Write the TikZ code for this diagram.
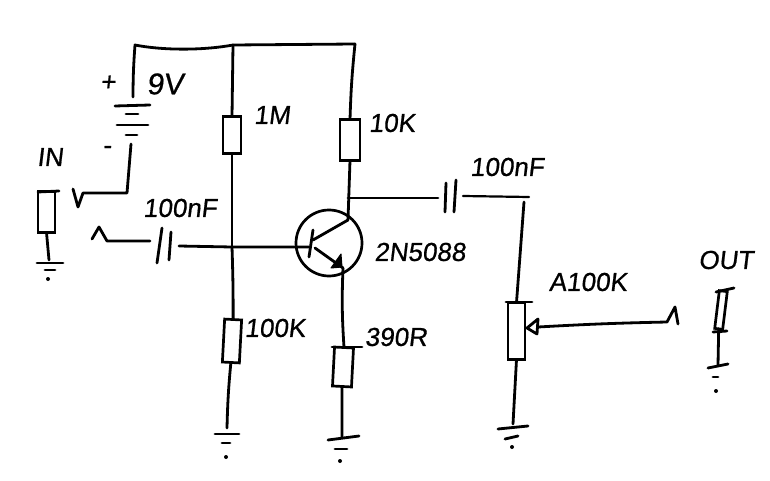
\documentclass[tikz,border=0pt]{standalone}
\usepackage{fontspec}
\setmainfont{Liberation Sans}
\newfontfamily\handfont[FakeBold=0.7,FakeSlant=0.12]{Liberation Sans}
\begin{document}
\begin{tikzpicture}[x=1pt,y=-1pt,
  wire/.style={line width=2.8pt,line cap=round,line join=round,black},
  thin wire/.style={line width=2.2pt,line cap=round,line join=round,black},
  res/.style={draw=black,line width=2.7pt,inner sep=0pt,outer sep=0pt,minimum width=#1},
  lab/.style={font=\fontsize{26}{28}\handfont,inner sep=0pt,text=black},
  dotm/.style={circle,fill=black,inner sep=0pt,minimum size=4pt}]
\useasboundingbox (0,0) rectangle (770,481);
% resistive bodies
\node[res=18pt,minimum height=37pt] (r1m) at (232,135) {};
\node[res=20pt,minimum height=41pt] (r10k) at (350,140) {};
\node[res=17pt,minimum height=43pt,rotate=-3] (r100k) at (232,341) {};
\node[res=19pt,minimum height=39pt,rotate=-3] (r390) at (343,367) {};
\node[res=17pt,minimum height=57pt] (pot) at (516.5,331) {};
\node[res=17pt,minimum height=41pt] (jin) at (46.5,212) {};
\node[res=8pt,minimum height=38pt,rotate=-7] (jout) at (721,310) {};
\node[circle,draw=black,line width=2.7pt,minimum size=66pt,inner sep=0pt,outer sep=0pt] (q) at (329,243) {};
% labels
\node[lab] (lplus) at (108,83) {+};
\node[lab] (lminus) at (107,150) {-};
\node[lab,font=\fontsize{30}{32}\handfont] (l9v) at (165,84) {9V};
\node[lab] (lin) at (50,157) {IN};
\node[lab] (l1m) at (272,115) {1M};
\node[lab] (l10k) at (392,123) {10K};
\node[lab] (lc1) at (180,208) {100nF};
\node[lab] (lc2) at (507,167) {100nF};
\node[lab] (lq) at (420,252) {2N5088};
\node[lab] (l100k) at (275,328) {100K};
\node[lab] (l390) at (396,337) {390R};
\node[lab] (lpot) at (588,282) {A100K};
\node[lab] (lout) at (726,260) {OUT};
% points
\coordinate (tl) at (135,45);
\coordinate (t1) at (233,45);
\coordinate (t2) at (355,44);
\coordinate (b1) at (133,97);
\coordinate (b2) at (131,144);
\coordinate (b3) at (127,193);
\coordinate (b4) at (83,193);
\coordinate (b5) at (78,207);
\coordinate (b6) at (73,189);
\coordinate (i1) at (92,239);
\coordinate (i2) at (99,227);
\coordinate (i3) at (107,241);
\coordinate (i4) at (150,241);
\coordinate (i5) at (179,246);
\coordinate (jb) at (232,247);
\coordinate (base) at (309,247);
\coordinate (bt) at (313,230);
\coordinate (bb) at (309,257);
\coordinate (c0) at (313,240);
\coordinate (c1) at (348,220);
\coordinate (e0) at (315,248);
\coordinate (e1) at (343,268);
\coordinate (jc) at (348,198);
\coordinate (o1) at (438,198);
\coordinate (o2) at (463,196);
\coordinate (o3) at (529,197);
\coordinate (o4) at (524,202);
\coordinate (gnd1) at (227,428);
\coordinate (gnd2) at (342,437);
\coordinate (gnd3) at (513,424);
\coordinate (gnd4) at (718,365);
\coordinate (gnd5) at (49,260);
\coordinate (w0) at (538,327);
\coordinate (w1) at (667,322);
\coordinate (w2) at (675,307);
\coordinate (w3) at (678,324);
% supply
\draw[wire] (b1) to[bend left=2] (tl) .. controls (160,50) and (200,51) .. (t1) -- (t2);
\draw[wire] (t1) -- (r1m.north);
\draw[wire] (t2) to[bend right=2] (r10k.north);
% battery
\draw[wire] (115,106) -- (150,105);
\draw[wire] (126,114) -- (138,114);
\draw[wire] (117,125) -- (148,125);
\draw[wire] (126,135) -- (137,135);
\draw[wire] (b2) -- (b3) -- (b4) -- (b5) -- (b6);
% input
\draw[wire] (i1) -- (i2) -- (i3) -- (i4);
\draw[wire] (162,228) -- (157,263);
\draw[wire] (171,232) -- (169,260);
\draw[wire] (i5) -- (jb) -- (base);
\draw[wire] (r1m.south) -- (jb);
\draw[wire] (jb) to[bend left=1] (r100k.north);
\draw[wire] (r100k.south) to[bend right=2] (gnd1);
% transistor
\draw[wire] (bt) -- (bb);
\draw[wire] (c0) -- (c1);
\draw[wire] (e0) -- (e1);
\fill[black,draw=black,line width=1pt,line join=round] (342,267) -- (341,254) -- (331,268) -- cycle;
\draw[wire] (r10k.south) -- (c1);
\draw[wire] (e1) to[bend right=3] (r390.north);
\draw[wire] (r390.south) -- (gnd2);
\draw[wire] (332,347) -- (362,347);
% output
\draw[wire] (jc) -- (o1);
\draw[wire] (446,183) -- (445,212);
\draw[wire] (456,180) -- (454,212);
\draw[thin wire] (o2) -- (o3);
\draw[wire] (o4) -- (pot.north);
\draw[wire] (506,302) -- (532,302);
\draw[wire] (pot.south) -- (gnd3);
% wiper
\draw[wire] (527,328) -- (538,319) -- (537,334) -- cycle;
\draw[wire] (w0) to[bend left=1] (w1) -- (w2) -- (w3);
% input jack
\draw[wire] (38,192) -- (59,191);
\draw[wire] (jin.south) -- (gnd5);
% output jack
\draw[wire] (716,292) -- (734,288);
\draw[wire] (713,332) -- (727,331);
\draw[wire] (jout.south) -- (gnd4);
% grounds
\draw[wire] (37,263) -- (63,263);
\draw[wire] (45,270) -- (55,270);
\node[dotm] (d1) at (48,279) {};
\draw[wire] (215,434) -- (239,434);
\draw[wire] (222,443) -- (230,443);
\node[dotm] (d2) at (226,457) {};
\draw[wire] (328,440) -- (359,436);
\draw[wire] (335,449) -- (347,449);
\node[dotm] (d3) at (340,461) {};
\draw[wire] (498,429) -- (528,426);
\draw[wire] (505,439) -- (518,436);
\node[dotm] (d4) at (512,447) {};
\draw[wire] (708,368) -- (728,364);
\draw[wire] (713,377) -- (718,377);
\node[dotm] (d5) at (716,391) {};
\end{tikzpicture}
\end{document}
